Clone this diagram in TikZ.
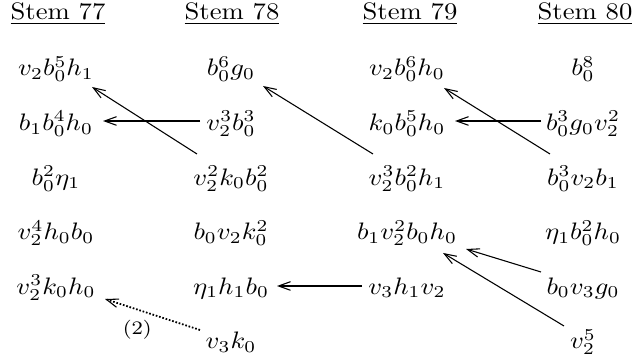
\documentclass[tikz,border=0pt]{standalone}
\usepackage{graphicx}
\usetikzlibrary{arrows.meta,calc}
\newcommand{\sx}[1]{\scalebox{1.12}[1]{#1}}
\tikzset{
  lab/.style={inner sep=0pt, outer sep=0pt, anchor=base},
  tipb/.tip={Straight Barb[length=5pt,width=3.6pt,line width=0.45pt]},
  thin arr/.style={-tipb, line width=0.45pt},
  thick arr/.style={-tipb, line width=1.1pt},
  dot arr/.style={-tipb, line width=0.75pt, dash pattern=on 0.7pt off 0.75pt}
}
\begin{document}
\begin{tikzpicture}[x=0.42pt,y=-0.42pt]
\useasboundingbox (0,0) rectangle (632,360);
% headings
\node[lab] (h1) at (58,20) {\sx{\underline{Stem 77}}};
\node[lab] (h2) at (232,20) {\sx{\underline{Stem 78}}};
\node[lab] (h3) at (410,20) {\sx{\underline{Stem 79}}};
\node[lab] (h4) at (585,20) {\sx{\underline{Stem 80}}};
% column 1
\node[lab] (n11) at (56,76) {\sx{$v_2b_0^5h_1$}};
\node[lab] (n12) at (56,130.6) {\sx{$b_1b_0^4h_0$}};
\node[lab] (n13) at (56,185.2) {\sx{$b_0^2\eta_1$}};
\node[lab] (n14) at (56,239.8) {\sx{$v_2^4h_0b_0$}};
\node[lab] (n15) at (56,294.4) {\sx{$v_2^3k_0h_0$}};
% column 2
\node[lab] (n21) at (231,76) {\sx{$b_0^6g_0$}};
\node[lab] (n22) at (231,130.6) {\sx{$v_2^3b_0^3$}};
\node[lab] (n23) at (231,185.2) {\sx{$v_2^2k_0b_0^2$}};
\node[lab] (n24) at (231,239.8) {\sx{$b_0v_2k_0^2$}};
\node[lab] (n25) at (231,294.4) {\sx{$\eta_1h_1b_0$}};
\node[lab] (n26) at (231,349) {\sx{$v_3k_0$}};
% column 3
\node[lab] (n31) at (407,76) {\sx{$v_2b_0^6h_0$}};
\node[lab] (n32) at (407,130.6) {\sx{$k_0b_0^5h_0$}};
\node[lab] (n33) at (407,185.2) {\sx{$v_2^3b_0^2h_1$}};
\node[lab] (n34) at (407,239.8) {\sx{$b_1v_2^2b_0h_0$}};
\node[lab] (n35) at (407,294.4) {\sx{$v_3h_1v_2$}};
% column 4
\node[lab] (n41) at (583,76) {\sx{$b_0^8$}};
\node[lab] (n42) at (583,130.6) {\sx{$b_0^3g_0v_2^2$}};
\node[lab] (n43) at (583,185.2) {\sx{$b_0^3v_2b_1$}};
\node[lab] (n44) at (583,239.8) {\sx{$\eta_1b_0^2h_0$}};
\node[lab] (n45) at (583,294.4) {\sx{$b_0v_3g_0$}};
\node[lab] (n46) at (583,349) {\sx{$v_2^5$}};
% connectors
\draw[thin arr] ($(n23.base)+(-34,-31.2)$) -- ($(n11.base)+(36,11)$);
\draw[thick arr] ($(n22.base)+(-31,-9.6)$) -- ($(n12.base)+(47,-9.6)$);
\draw[thin arr] ($(n33.base)+(-34,-31.2)$) -- ($(n21.base)+(32,10)$);
\draw[thick arr] ($(n42.base)+(-42,-9.6)$) -- ($(n32.base)+(48,-9.6)$);
\draw[thin arr] ($(n43.base)+(-33,-31.2)$) -- ($(n31.base)+(37,12)$);
\draw[thick arr] ($(n35.base)+(-45,-8.4)$) -- ($(n25.base)+(46,-8.4)$);
\draw[thin arr] ($(n45.base)+(-42,-22.4)$) -- ($(n34.base)+(59,9.2)$);
\draw[thin arr] ($(n46.base)+(-19,-23)$) -- ($(n34.base)+(36,13.2)$);
\draw[dot arr] ($(n26.base)+(-31,-19)$) -- node[pos=0.66, below=4pt, inner sep=0pt] (l2) {\sx{\footnotesize (2)}} ($(n15.base)+(49,4.6)$);
\end{tikzpicture}
\end{document}
